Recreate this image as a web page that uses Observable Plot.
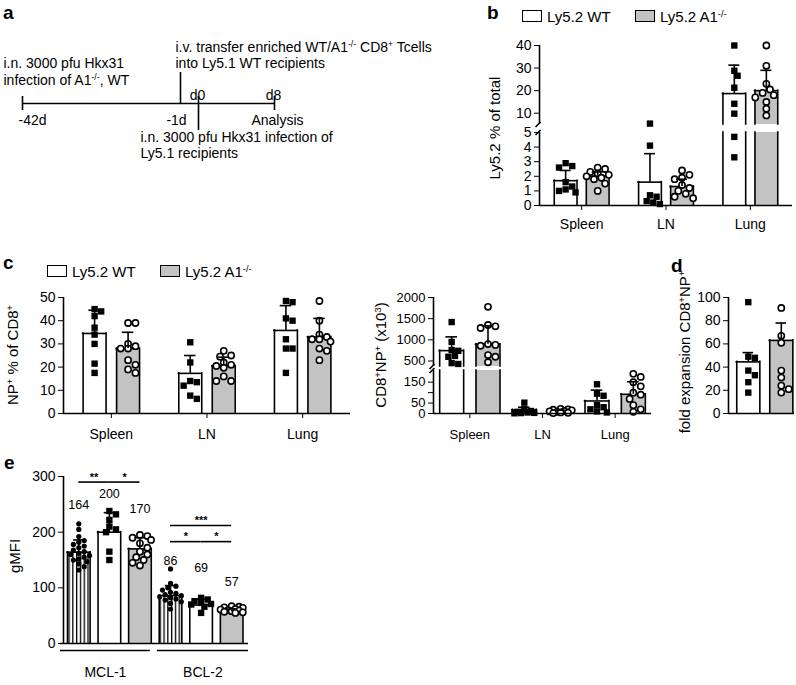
<!DOCTYPE html>
<html><head><meta charset="utf-8">
<script src="https://cdn.jsdelivr.net/npm/d3@7"></script>
<script src="https://cdn.jsdelivr.net/npm/@observablehq/plot@0.6"></script>
<style>
body{margin:0;background:#fff;}
#page{position:relative;width:796px;height:685px;overflow:hidden;font-family:"Liberation Sans",Arial,Helvetica,sans-serif;color:#000;background:#fff;}
#page svg{position:absolute;left:0;top:0;overflow:visible;}
#page svg line{stroke-width:1.6px;}
.lbl{position:absolute;white-space:nowrap;font-size:15px;line-height:1;}
.letter{position:absolute;font-weight:bold;font-size:19px;line-height:1;}
.rot{position:absolute;white-space:nowrap;font-size:15px;line-height:1;transform:translate(-50%,-50%) rotate(-90deg);}
sup{font-size:0.62em;position:relative;top:-0.55em;vertical-align:baseline;line-height:0;}
.sw{position:absolute;width:20px;height:12px;border:1.6px solid #000;box-sizing:border-box;}
</style></head><body>
<svg width="0" height="0" style="position:absolute"><defs>
<pattern id="stripes" patternUnits="userSpaceOnUse" width="3.8" height="10"><rect width="3.8" height="10" fill="#fff"/><rect x="0" width="1.3" height="10" fill="#000"/></pattern>
</defs></svg>
<div id="page"></div>
<script>
// ---------------- data ----------------
const groups = ["Spleen", "LN", "Lung"];
const genotypes = ["Ly5.2 WT", "Ly5.2 A1^{-/-}"];

// panel a (timeline, days)
const aDays = [-42, -1, 0, 8];
const aDayLabels = ["-42d", "-1d", "d0", "d8"];
const aNoteInfection = ["i.n. 3000 pfu Hkx31", "infection of A1^{-/-}, WT"];
const aNoteTransfer = ["i.v. transfer enriched WT/A1^{-/-} CD8^{+} Tcells", "into Ly5.1 WT recipients"];
const aNoteRecipients = ["i.n. 3000 pfu Hkx31 infection of", "Ly5.1 recipients"];
const aNoteEnd = "Analysis";

// panel b: Ly5.2 % of total
const bMeanWT = [1.7, 1.6, 18.7];
const bMeanA1 = [2.0, 1.3, 20.0];
const bTopWT = [2.4, 3.55, 31.3];
const bTopA1 = [2.3, 1.8, 29.0];
const bPtsWT = [[2.9, 2.7, 2.6, 1.6, 1.3, 1.1, 1.0, 0.9], [5.4, 4.1, 0.7, 0.6, 0.3, 0.2, 0.1], [40, 28.8, 26.6, 21.3, 14.2, 9.8, 4.7, 3.3]];
const bPtsA1 = [[2.6, 2.5, 2.3, 2.2, 2.1, 2.0, 1.9, 1.8, 1.5, 1.0], [2.4, 2.1, 1.9, 1.8, 1.4, 1.2, 1.0, 0.8, 0.6, 0.5], [40, 31, 23, 20.5, 19, 18, 17, 15, 12, 9]];

// panel c (left): NP+ % of CD8+
const cMeanWT = [34.5, 17.3, 35.8];
const cMeanA1 = [28.0, 20.5, 33.0];
const cTopWT = [44.5, 25.0, 46.5];
const cTopA1 = [35.0, 24.3, 41.0];
const cPtsWT = [[45, 44, 42, 37, 34, 30, 21.5, 17.5], [30.7, 22, 14, 13.5, 12, 7.7, 6.3], [48.5, 48, 41, 40, 32, 28, 28, 17.5]];
const cPtsA1 = [[39, 39, 30, 29, 28, 28, 23, 21, 19, 17.5], [27, 25, 24.5, 22, 21, 20.5, 19.7, 16, 14, 14], [48.5, 40, 34, 33, 32, 32, 31, 28, 27, 23]];

// panel c (middle): CD8+NP+ (x10^3)
const nMeanWT = [745, 18, 60];
const nMeanA1 = [895, 10, 92];
const nTopWT = [1070, 30, 112];
const nTopA1 = [1330, 16, 152];
const nPtsWT = [[1420, 950, 760, 740, 620, 600, 450, 430], [52, 20, 12, 8, 5, 3, 2, 1], [140, 95, 85, 40, 30, 20, 10, 5]];
const nPtsA1 = [[1780, 1350, 1320, 1280, 900, 880, 860, 640, 600, 470], [22, 20, 18, 15, 12, 10, 8, 5, 3, 2], [190, 175, 150, 130, 100, 90, 70, 40, 20, 8]];

// panel d: fold expansion CD8+NP+
const dMean = [44.5, 63];
const dTop = [52.5, 78];
const dPtsWT = [96, 49, 48, 37, 33, 27, 18];
const dPtsA1 = [91, 67, 61, 37, 31, 24, 21, 18];

// panel e: gMFI
const eGroups = ["MCL-1", "BCL-2"];
const eMean = [164, 200, 170, 86, 69, 57];
const eTop = [186, 235, 190, 104, 80, 62];
const eLabels = ["164", "200", "170", "86", "69", "57"];
const ePts = [
  [215, 205, 192, 185, 182, 178, 175, 172, 168, 165, 162, 160, 158, 155, 152, 150, 147, 143, 138, 132],
  [238, 232, 222, 210, 205, 200, 165, 150],
  [195, 193, 190, 186, 180, 172, 165, 160, 155, 150, 145, 140],
  [134, 108, 103, 100, 96, 92, 90, 88, 86, 84, 82, 80, 78, 75, 72, 62],
  [82, 79, 76, 73, 71, 70, 66, 55],
  [67, 66, 65, 64, 62, 61, 60, 59, 58, 57, 56, 55]
];
const eSig = [
  {a: 0, b: 1, level: 290, text: "**"},
  {a: 1, b: 2, level: 290, text: "*"},
  {a: 3, b: 5, level: 212, text: "***"},
  {a: 3, b: 4, level: 183, text: "*"},
  {a: 4, b: 5, level: 183, text: "*"}
];

// ---------------- helpers ----------------
const FONT = '"Liberation Sans", Arial, Helvetica, sans-serif';
const GREY = "#c3c3c3";
const W = 796, H = 685;
const page = document.getElementById("page");

function supHTML(s) { return s.replace(/\^\{([^}]*)\}/g, "<sup>$1</sup>"); }
function supify(root) {
  root.querySelectorAll("text, tspan").forEach(el => {
    if (el.children.length) return;
    const s = el.textContent;
    if (!s.includes("^{")) return;
    el.textContent = "";
    const re = /\^\{([^}]*)\}/g; let last = 0, m;
    while ((m = re.exec(s))) {
      if (m.index > last) el.appendChild(document.createTextNode(s.slice(last, m.index)));
      const t = document.createElementNS("http://www.w3.org/2000/svg", "tspan");
      t.setAttribute("baseline-shift", "super");
      t.setAttribute("font-size", "0.62em");
      t.textContent = m[1];
      el.appendChild(t);
      last = re.lastIndex;
    }
    if (last < s.length) el.appendChild(document.createTextNode(s.slice(last)));
  });
}
function div(cls, left, top, inner, extra = "") {
  const d = document.createElement("div");
  d.className = cls;
  d.style.cssText = `left:${left}px;top:${top}px;${extra}`;
  d.innerHTML = inner;
  page.appendChild(d);
  return d;
}
function place(opts, fontSize = 14) {
  const svg = Plot.plot({
    width: W, height: H,
    style: {background: "none", fontFamily: FONT, fontSize: fontSize + "px", color: "#000", overflow: "visible"},
    ...opts
  });
  svg.style.position = "absolute"; svg.style.left = "0px"; svg.style.top = "0px";
  page.appendChild(svg);
  supify(svg);
  return svg;
}
function swarm(vals, ypx, diam, maxPx) {
  const order = vals.map((_, i) => i).sort((a, b) => vals[b] - vals[a]);
  const placed = [], off = [];
  const step = diam * 0.5;
  for (const i of order) {
    const py = ypx(vals[i]);
    let best = null, bestD = -1, bestC = 0;
    for (let k = 0; k < 40; k++) {
      const c = (k % 2 ? 1 : -1) * Math.ceil(k / 2) * step;
      if (Math.abs(c) > maxPx) break;
      const dmin = placed.length ? Math.min(...placed.map(p => Math.hypot(p.x - c, p.y - py))) : Infinity;
      if (dmin >= diam * 0.9) { best = c; break; }
      if (dmin > bestD) { bestD = dmin; bestC = c; }
    }
    if (best === null) best = bestC;
    off[i] = best; placed.push({x: best, y: py});
  }
  return off;
}
const MARK = {
  sq: {symbol: "square", r: 3.6, fill: "#000", stroke: "none", diam: 6.6},
  oc: {symbol: "circle", r: 3.1, fill: "#fff", stroke: "#000", strokeWidth: 1.6, diam: 7.4},
  dc: {symbol: "circle", r: 2.6, fill: "#000", stroke: "none", diam: 5.4}
};
const num = d => String(d);

// cfg: {xDomain, xPx, segs:[{yDomain, yPx, ticks, fmt, own, xAxis, breakAt}], bars, baseline, extra, fontSize}
function buildPanel(cfg) {
  const ppu = (cfg.xPx[1] - cfg.xPx[0]) / (cfg.xDomain[1] - cfg.xDomain[0]);
  const scales = cfg.segs.map(s => d3.scaleLinear(s.yDomain, s.yPx));
  const ypx = v => { const i = cfg.segs.findIndex(s => s.own(v)); return scales[i](v); };
  const pts = cfg.bars.flatMap(b => {
    const off = swarm(b.pts, ypx, MARK[b.kind].diam, b.hw * ppu + 1);
    return b.pts.map((v, i) => ({x: b.x + off[i] / ppu, v, kind: b.kind}));
  });
  cfg.segs.forEach((s, si) => {
    const [lo, hi] = s.yDomain;
    const pyu = (s.yPx[0] - s.yPx[1]) / (hi - lo);
    const vis = cfg.bars.filter(b => b.mean > lo);
    const fills = [...new Set(vis.map(b => b.fill))];
    const edges = vis.flatMap(b => [{x: b.x - b.hw, b}, {x: b.x + b.hw, b}]);
    const marks = [];
    for (const f of fills) {
      marks.push(Plot.rect(vis.filter(b => b.fill === f), {x1: b => b.x - b.hw, x2: b => b.x + b.hw, y1: lo, y2: b => Math.min(b.mean, hi), fill: f}));
    }
    marks.push(Plot.ruleX(edges, {x: "x", y1: lo, y2: d => Math.min(d.b.mean, hi), stroke: "#000", strokeWidth: 1.6, strokeLinecap: "square"}));
    marks.push(Plot.ruleY(vis.filter(b => b.mean <= hi), {y: "mean", x1: b => b.x - b.hw, x2: b => b.x + b.hw, stroke: "#000", strokeWidth: 1.6, strokeLinecap: "square"}));
    for (const k of ["sq", "oc", "dc"]) {
      const mine = pts.filter(p => p.kind === k && s.own(p.v));
      if (!mine.length) continue;
      const m = MARK[k];
      marks.push(Plot.dot(mine, {x: "x", y: "v", symbol: m.symbol, r: m.r, fill: m.fill, stroke: m.stroke, strokeWidth: m.strokeWidth || 0}));
    }
    const errs = cfg.bars.filter(b => b.top > lo && b.mean < hi);
    marks.push(Plot.ruleX(errs, {x: "x", y1: b => Math.max(b.mean, lo), y2: b => Math.min(b.top, hi), stroke: "#000", strokeWidth: 1.6}));
    marks.push(Plot.ruleY(cfg.bars.filter(b => b.top >= lo && b.top <= hi), {y: "top", x1: b => b.x - b.cap, x2: b => b.x + b.cap, stroke: "#000", strokeWidth: 1.6}));
    marks.push(Plot.ruleX([cfg.xDomain[0]], {x: d => d, y1: lo, y2: hi, stroke: "#000", strokeWidth: 1.6}));
    if (s.breakAt !== undefined) {
      // short slanted axis-break marker at the cut end of this segment
      const x0 = cfg.xDomain[0];
      marks.push(Plot.link([s.breakAt], {x1: x0 - 4 / ppu, y1: d => d - 2.5 / pyu, x2: x0 + 1 / ppu, y2: d => d + 2.5 / pyu, stroke: "#000", strokeWidth: 1.6}));
    }
    if (s.xAxis && cfg.baseline) marks.push(Plot.ruleY([lo], {y: d => d, x1: cfg.baseline[0], x2: cfg.baseline[1], stroke: "#000", strokeWidth: 1.6}));
    if (cfg.extra) marks.push(...cfg.extra(si));
    place({
      marginLeft: cfg.xPx[0], marginRight: W - cfg.xPx[1],
      marginTop: s.yPx[1], marginBottom: H - s.yPx[0],
      x: s.xAxis ? {domain: cfg.xDomain, label: null, ...s.xAxis} : {domain: cfg.xDomain, axis: null},
      y: {domain: s.yDomain, ticks: s.ticks, tickFormat: s.fmt || num, tickSize: 5, tickPadding: 3, label: null},
      marks
    }, cfg.fontSize || 14);
  });
}
function pairBars(meanWT, meanA1, topWT, topA1, ptsWT, ptsA1, off, hw, cap) {
  return groups.flatMap((g, i) => [
    {x: i - off, hw, cap, mean: meanWT[i], top: topWT[i], fill: "#fff", kind: "sq", pts: ptsWT[i]},
    {x: i + off, hw, cap, mean: meanA1[i], top: topA1[i], fill: GREY, kind: "oc", pts: ptsA1[i]}
  ]);
}
const groupAxis = pad => ({ticks: [0, 1, 2], tickFormat: i => groups[i], tickSize: 5, tickPadding: pad});

// ---------------- panel a ----------------
{
  // schematic (broken) timeline: days are warped so the long pre-transfer interval is compressed
  const warp = d3.scaleLinear([-42, -1, 0, 8], [0, 158, 176, 252]);
  const up = [0.7, 3.1, 0.7, 0.7], down = [-0.7, 0, -2.7, -0.7];
  const ev = aDays.map((d, i) => ({d, up: up[i], down: down[i], label: aDayLabels[i]}));
  place({
    marginLeft: 0, marginRight: 0, marginTop: 0, marginBottom: 0,
    x: {transform: warp, domain: [warp(-42), warp(8)], range: [22, 274], axis: null},
    y: {domain: [-6, 6], range: [163, 43], axis: null},
    marks: [
      Plot.ruleY([0], {y: d => d, x1: aDays[0], x2: aDays[3], stroke: "#000", strokeWidth: 1.6}),
      Plot.ruleX(ev, {x: "d", y1: "down", y2: "up", stroke: "#000", strokeWidth: 1.6}),
      Plot.text([ev[0]], {x: "d", y: -1.7, text: "label", textAnchor: "start", dx: -4, fontSize: 14}),
      Plot.text([ev[1]], {x: "d", y: -1.7, text: "label", dx: -4, fontSize: 14}),
      Plot.text([ev[2], ev[3]], {x: "d", y: 0.8, text: "label", dx: -1, fontSize: 14}),
      Plot.text([aNoteEnd], {x: aDays[3], y: -1.7, text: d => d, dx: 3, fontSize: 14}),
      Plot.text(aNoteInfection, {x: aDays[0], y: (d, i) => [4.0, 2.3][i], text: d => d, textAnchor: "start", dx: -19, fontSize: 14}),
      Plot.text(aNoteTransfer, {x: aDays[1], y: (d, i) => [5.6, 4.0][i], text: d => d, textAnchor: "start", dx: -5, fontSize: 14}),
      Plot.text(aNoteRecipients, {x: aDays[2], y: (d, i) => [-3.4, -5.0][i], text: d => d, textAnchor: "start", dx: -58, fontSize: 14})
    ]
  });
}

// ---------------- panel b ----------------
buildPanel({
  xDomain: [-0.5, 2.5], xPx: [539, 792], baseline: [-0.5, 2.5],
  bars: pairBars(bMeanWT, bMeanA1, bTopWT, bTopA1, bPtsWT, bPtsA1, 0.19, 0.135, 0.065),
  segs: [
    {yDomain: [0, 5], yPx: [205, 132], ticks: [0, 1, 2, 3, 4, 5], own: v => v <= 5, xAxis: groupAxis(9), breakAt: 5},
    {yDomain: [5, 40], yPx: [124, 45], ticks: [10, 20, 30, 40], own: v => v > 5, breakAt: 5}
  ]
});

// ---------------- panel c (left) ----------------
buildPanel({
  xDomain: [-0.5, 2.5], xPx: [63, 350], baseline: [-0.5, 2.5],
  bars: pairBars(cMeanWT, cMeanA1, cTopWT, cTopA1, cPtsWT, cPtsA1, 0.175, 0.12, 0.06),
  segs: [{yDomain: [0, 50], yPx: [413, 297], ticks: [0, 10, 20, 30, 40, 50], own: v => true, xAxis: groupAxis(11)}]
});

// ---------------- panel c (middle) ----------------
buildPanel({
  xDomain: [-0.5, 2.5], xPx: [433, 651], baseline: [-0.5, 2.5], fontSize: 13,
  bars: pairBars(nMeanWT, nMeanA1, nTopWT, nTopA1, nPtsWT, nPtsA1, 0.25, 0.165, 0.08),
  segs: [
    {yDomain: [0, 206], yPx: [413, 370], ticks: [0, 50, 100, 150], fmt: d => d === 100 ? "" : String(d), own: v => v < 300, xAxis: groupAxis(11), breakAt: 206},
    {yDomain: [370, 2000], yPx: [366, 297], ticks: [500, 1000, 1500, 2000], own: v => v >= 300, breakAt: 370}
  ]
});

// ---------------- panel d ----------------
buildPanel({
  xDomain: [-0.6, 1.4], xPx: [728, 794], baseline: [-0.6, 1.4],
  bars: [
    {x: 0, hw: 0.35, cap: 0.16, mean: dMean[0], top: dTop[0], fill: "#fff", kind: "sq", pts: dPtsWT},
    {x: 1, hw: 0.35, cap: 0.16, mean: dMean[1], top: dTop[1], fill: GREY, kind: "oc", pts: dPtsA1}
  ],
  segs: [{yDomain: [0, 100], yPx: [413, 297], ticks: [0, 20, 40, 60, 80, 100], own: v => true, xAxis: {axis: null}}]
});

// ---------------- panel e ----------------
{
  const fills = ["url(#stripes)", "#fff", GREY];
  const kinds = ["dc", "sq", "oc"];
  const labelLevel = [248, 269, 242, 149, 135, 110];
  const under = [{x1: -0.6, x2: 2.34}, {x1: 2.57, x2: 5.55}];
  buildPanel({
    xDomain: [-0.5, 5.55], xPx: [63, 248], baseline: [-0.6, 5.55],
    bars: eMean.map((m, i) => ({x: i, hw: 0.37, cap: 0.17, mean: m, top: eTop[i], fill: fills[i % 3], kind: kinds[i % 3], pts: ePts[i]})),
    segs: [{yDomain: [0, 300], yPx: [643, 476], ticks: [0, 100, 200, 300], own: v => true,
      xAxis: {ticks: under.map(u => (u.x1 + u.x2) / 2), tickFormat: (d, i) => eGroups[i], tickSize: 0, tickPadding: 24}}],
    extra: () => [
      Plot.ruleY(under, {y: 0, x1: "x1", x2: "x2", dy: 7, stroke: "#000", strokeWidth: 1.6}),
      Plot.text(eLabels, {x: (d, i) => i, y: (d, i) => labelLevel[i], text: d => d, fontSize: 12.5}),
      Plot.ruleY(eSig, {y: "level", x1: "a", x2: "b", stroke: "#000", strokeWidth: 1.6}),
      Plot.text(eSig, {x: d => (d.a + d.b) / 2, y: "level", text: "text", dy: -5, fontSize: 11, fontWeight: "bold"})
    ]
  });
}

// ---------------- html annotations ----------------
div("letter", 3, 3, "a");
div("letter", 487, 3, "b");
div("letter", 3, 253, "c");
div("letter", 671, 256, "d");
div("letter", 4, 453, "e");

function legend(x, y) {
  genotypes.forEach((g, i) => {
    div("sw", x + i * 113, y, "", `background:${i ? GREY : "#fff"}`);
    div("lbl", x + i * 113 + 25, y - 1, supHTML(g));
  });
}
legend(522, 10);
legend(47, 265);

div("rot", 494, 128, "Ly5.2 % of total");
div("rot", 12, 355, supHTML("NP^{+} % of CD8^{+}"));
div("rot", 380, 355, supHTML("CD8^{+}NP^{+} (x10^{3})"));
div("rot", 684, 352, supHTML("fold expansion CD8^{+}NP^{+}"));
div("rot", 14, 556, "gMFI");
</script>
</body></html>
